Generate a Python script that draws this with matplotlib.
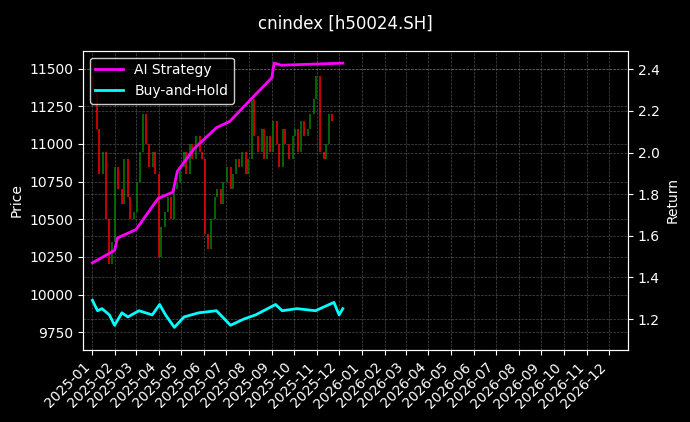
import matplotlib
matplotlib.use("Agg")
import matplotlib.pyplot as plt
import matplotlib.dates as mdates
import pandas as pd

closes = [11350, 11100, 10800, 10950, 10500, 10200, 10350,
          10850, 10700, 10600, 10900, 10650, 10500,
          10550, 10750, 10950, 11200, 11000, 10850, 10950,
          10800, 10250, 10450, 10550, 10650, 10500, 10700,
          10750, 10850, 10950, 10800, 11000, 10900, 11050,
          10950, 10900, 10400, 10300, 10500, 10650, 10700,
          10600, 10750, 10850, 10700, 10800, 10900, 10850, 10950,
          10800, 10900, 11300, 11050, 10950, 11100, 10900,
          11050, 10950, 11150, 11000, 10850, 11100, 11000,
          10900, 11050, 11100, 10950, 11150, 11050,
          11100, 11200, 11300, 11450, 10950, 10900, 11000,
          11200, 11150]
first_open = 11450
candle_dates = pd.bdate_range("2025-01-02", periods=len(closes), freq="3B")

ai_dates = ["2025-01-01", "2025-01-31", "2025-02-04", "2025-03-01", "2025-03-31",
            "2025-04-20", "2025-04-26", "2025-05-19", "2025-06-18", "2025-07-06",
            "2025-08-10", "2025-09-01", "2025-09-04", "2025-09-14", "2025-12-06"]
ai_vals = [1.47, 1.53, 1.59, 1.63, 1.78, 1.81, 1.91, 2.02, 2.12, 2.15,
           2.28, 2.36, 2.43, 2.42, 2.43]

bh_dates = ["2025-01-01", "2025-01-08", "2025-01-14", "2025-01-24", "2025-01-31",
            "2025-02-10", "2025-02-18", "2025-03-05", "2025-03-23", "2025-04-02",
            "2025-04-10", "2025-04-22", "2025-05-05", "2025-05-25", "2025-06-18",
            "2025-07-07", "2025-07-25", "2025-08-10", "2025-09-06", "2025-09-15",
            "2025-10-05", "2025-10-30", "2025-11-24", "2025-12-01", "2025-12-06"]
bh_vals = [1.29, 1.24, 1.25, 1.22, 1.17, 1.23, 1.21, 1.24, 1.22, 1.27,
           1.22, 1.16, 1.21, 1.23, 1.24, 1.17, 1.20, 1.22, 1.27, 1.24,
           1.25, 1.24, 1.28, 1.22, 1.25]

plt.rcParams['font.family'] = ['DejaVu Sans']
fig = plt.figure(figsize=(6.9, 4.22), dpi=100, facecolor='black')
ax = fig.add_axes([0.12, 0.17, 0.79, 0.71], facecolor='black')
ax2 = ax.twinx()

opens = [first_open] + closes[:-1]
cd = mdates.date2num(candle_dates)
for x, o, c in zip(cd, opens, closes):
    col = 'green' if c >= o else 'red'
    ax.vlines(x, min(o, c), max(o, c), color=col, lw=1.1)
ax.set_ylim(9630, 11620)
ax.set_yticks([9750, 10000, 10250, 10500, 10750, 11000, 11250, 11500])

ax2.plot(pd.to_datetime(ai_dates), ai_vals, color='magenta', lw=2, label='AI Strategy')
ax2.plot(pd.to_datetime(bh_dates), bh_vals, color='cyan', lw=2, label='Buy-and-Hold')
ax2.set_ylim(1.05, 2.49)

ax.set_xlim(pd.Timestamp("2024-12-19"), pd.Timestamp("2026-12-27"))
ax.xaxis.set_major_locator(mdates.MonthLocator())
ax.xaxis.set_major_formatter(mdates.DateFormatter('%Y-%m'))
for lbl in ax.get_xticklabels():
    lbl.set_rotation(45); lbl.set_ha('right')

for a in (ax, ax2):
    a.tick_params(colors='white', labelsize=10)
    for s in a.spines.values():
        s.set_color('white')
    a.grid(True, color='gray', ls='--', lw=0.5, alpha=0.6)
ax.set_ylabel('Price', color='white')
ax2.set_ylabel('Return', color='white')
fig.suptitle('cnindex [h50024.SH]', color='white', fontsize=12, y=0.965)
leg = ax2.legend(loc='upper left', facecolor='black', edgecolor='white', fontsize=10)
for t in leg.get_texts():
    t.set_color('white')
fig.savefig('out.png', dpi=100, facecolor='black')
